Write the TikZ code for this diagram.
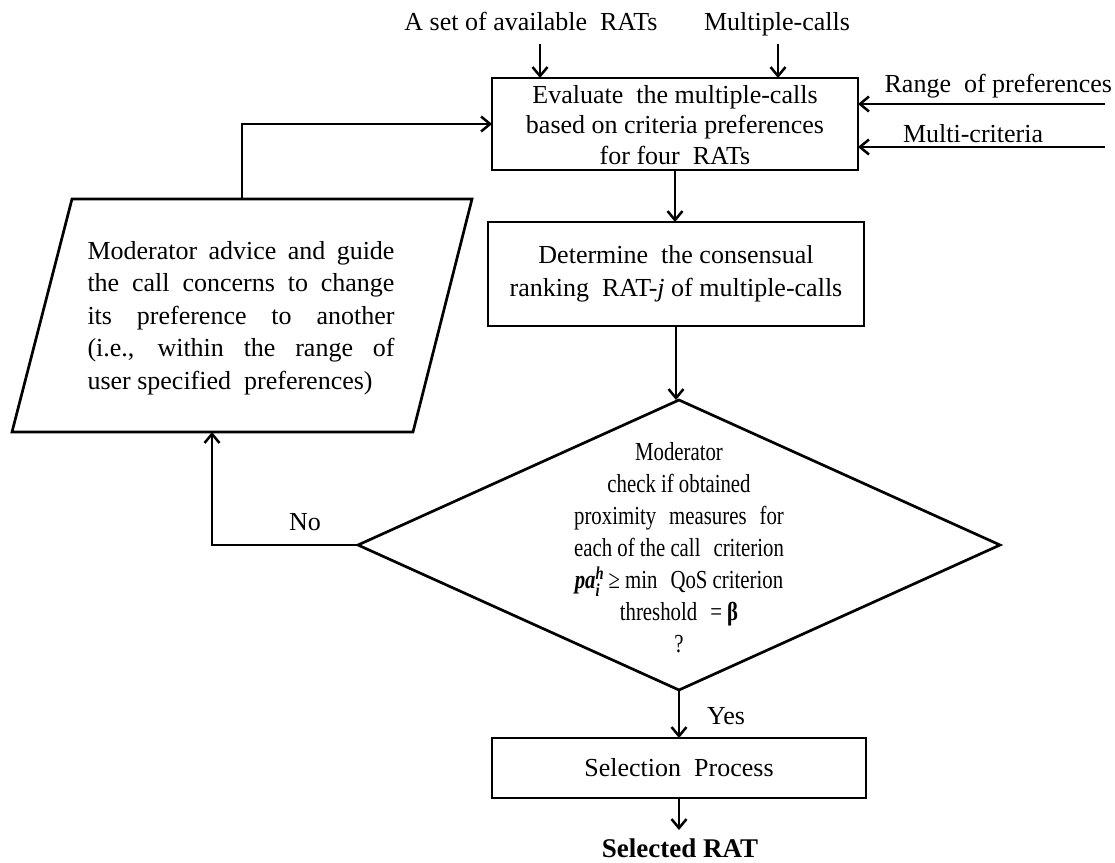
\documentclass[tikz,border=0pt]{standalone}
\usepackage{fontspec}
\usepackage{amsmath}
\setmainfont{Liberation Serif}
\newfontfamily\narrowserif[FakeStretch=0.8]{Liberation Serif}
\usetikzlibrary{arrows.meta,shapes.geometric}
\newcommand\wsp{\hspace{0.5em}}

\tikzset{
  every node/.style={inner sep=0pt, outer sep=0pt},
  lbl/.style={font=\fontsize{26}{32}\selectfont},
  box/.style={draw, line width=2.7pt, align=center,
              font=\fontsize{26}{32.5}\selectfont},
  flow/.style={line width=2.7pt,
               -{Straight Barb[length=9pt,width=15pt,line width=2.5pt]}},
  edge/.style={line width=2.7pt},
}

\begin{document}
\begin{tikzpicture}[x=1pt, y=-1pt, line join=miter]
\useasboundingbox (0,0) rectangle (1115,862);

% inputs above the evaluation step
\node[lbl, anchor=base] (avail) at (531,30) {A set of available\wsp RATs};
\node[lbl, anchor=base] (mcalls) at (777,30) {Multiple-calls};
\coordinate (a1) at (540,44);
\coordinate (m1) at (778,44);

% evaluation step
\node[box, minimum width=366pt, minimum height=92pt] (eval) at (675,124) {};
\node[align=center, font=\fontsize{26}{30.5}\selectfont] (evaltext) at (675,125)
  {Evaluate\wsp the multiple-calls\\based on criteria preferences\\for four\wsp RATs};

% inputs from the right
\node[lbl, anchor=base east] (range) at (1112,92) {Range\wsp of preferences};
\node[lbl, anchor=base west] (multi) at (903,142) {Multi-criteria};
\coordinate (r1) at (1105,104);
\coordinate (c1) at (1105,147);

% consensus ranking
\node[box, minimum width=376pt, minimum height=104pt] (det) at (676,274)
  {Determine\wsp the consensual\\ranking\wsp RAT-\textit{j} of multiple-calls};

% moderator decision
\node[diamond, draw, line width=2.7pt, minimum width=642pt, minimum height=290pt]
  (dec) at (679,545) {};
\node[align=center, font=\fontsize{26}{32}\narrowserif] (dectext) at (679,548)
  {Moderator\\check if obtained\\proximity\wsp measures\wsp for\\each of the call\wsp criterion\\
   \textbf{\textit{pa}}$^{\textbf{\textit{h}}}_{\textbf{\textit{i}}}$\,≥ min\wsp QoS criterion\\
   threshold\wsp = \textbf{β}\\?};

% moderator advice (parallelogram)
\coordinate (pTL) at (72,199);
\coordinate (pTR) at (472,199);
\coordinate (pBR) at (413,432);
\coordinate (pBL) at (12,432);
\draw[edge] (pTL) -- (pTR) -- (pBR) -- (pBL) -- cycle;
\node[text width=307pt, align=justify, font=\fontsize{26}{32.5}\selectfont] (advice) at (241,318)
  {\tolerance=10000\hyphenpenalty=10000
   Moderator advice and guide\linebreak
   the call concerns to change\linebreak
   its preference to another\linebreak
   (i.e., within the range of\linebreak
   user specified\wsp preferences)};
\coordinate (ptop) at (242,199);
\coordinate (pbot) at (212,432);

% selection
\node[box, minimum width=374pt, minimum height=60pt] (sel) at (679,768)
  {Selection\wsp Process};
\coordinate (s1) at (679,830);
\node[font=\fontsize{27}{30}\selectfont\bfseries, anchor=base] (result) at (680,857) {Selected RAT};

% connectors
\draw[flow] (a1) -- (a1 |- eval.north);
\draw[flow] (m1) -- (m1 |- eval.north);
\draw[flow] (r1) -- (r1 -| eval.east);
\draw[flow] (c1) -- (c1 -| eval.east);
\draw[flow] (eval.south) -- (eval.south |- det.north);
\draw[flow] (det.south) -- (det.south |- dec.north);
\draw[flow] (dec.west) -| (pbot);
\draw[flow] (ptop) |- (eval.west);
\draw[flow] (dec.south) -- (sel.north);
\draw[flow] (sel.south) -- (s1);

% branch labels
\node[lbl] (no) at (305,522) {No};
\node[lbl] (yes) at (726,716) {Yes};
\end{tikzpicture}
\end{document}
